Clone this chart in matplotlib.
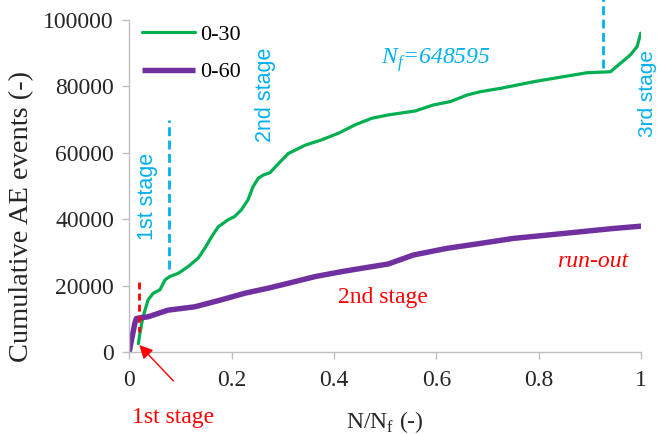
import matplotlib
matplotlib.use("Agg")
import matplotlib.pyplot as plt
from matplotlib.ticker import FuncFormatter

# Data
x_030 = [0.018, 0.021, 0.027, 0.037, 0.047, 0.060, 0.070, 0.079, 0.096, 0.115, 0.135, 0.148,
         0.161, 0.174, 0.193, 0.206, 0.219, 0.232, 0.242, 0.252, 0.262, 0.275, 0.292, 0.311,
         0.344, 0.376, 0.409, 0.441, 0.474, 0.506, 0.559, 0.594, 0.627, 0.660, 0.686, 0.725,
         0.790, 0.855, 0.894, 0.940, 0.959, 0.979, 0.992, 0.999]
y_030 = [2500, 5600, 10600, 15700, 17700, 18700, 21700, 22700, 23700, 25700, 28300, 31300,
         34700, 37700, 39800, 40800, 42800, 45800, 49800, 52300, 53300, 54000, 56800, 59800,
         62300, 63900, 65900, 68400, 70400, 71400, 72600, 74400, 75400, 77400, 78400, 79400,
         81400, 83100, 84100, 84400, 86900, 89500, 92000, 96000]

x_060 = [0.0, 0.011, 0.014, 0.037, 0.076, 0.128, 0.180, 0.226, 0.271, 0.311, 0.363, 0.415,
         0.454, 0.506, 0.555, 0.620, 0.686, 0.750, 0.816, 0.881, 0.946, 1.0]
y_060 = [0, 8600, 10100, 10600, 12600, 13600, 15700, 17700, 19200, 20700, 22700, 24200,
         25200, 26500, 29200, 31200, 32700, 34200, 35200, 36200, 37200, 37900]

series_labels = ["0-30", "0-60"]
x_ticks = [0, 0.2, 0.4, 0.6, 0.8, 1.0]
y_ticks = [0, 20000, 40000, 60000, 80000, 100000]

GREEN = "#00B050"
PURPLE = "#7030A0"
BLUE = "#00B0F0"
RED = "#FF0000"
SERIF = "Liberation Serif"
SANS = "Liberation Sans"
TXT = "#262626"

fig = plt.figure(figsize=(6.59, 4.34), dpi=100)
ax = fig.add_axes([0.196, 0.189, 0.777, 0.765])

ax.plot(x_030, y_030, color=GREEN, lw=2.3, label=series_labels[0],
        solid_capstyle="round", solid_joinstyle="round")
ax.plot(x_060, y_060, color=PURPLE, lw=3.9, label=series_labels[1],
        solid_capstyle="butt", solid_joinstyle="round")

ax.set_xlim(0, 1)
ax.set_ylim(0, 100000)
ax.set_xticks(x_ticks)
ax.set_yticks(y_ticks)
ax.xaxis.set_major_formatter(FuncFormatter(lambda v, p: "%g" % v))
ax.yaxis.set_major_formatter(FuncFormatter(lambda v, p: "%d" % v))

for s in ["top", "right"]:
    ax.spines[s].set_visible(False)
for s in ["left", "bottom"]:
    ax.spines[s].set_color("#BFBFBF")
    ax.spines[s].set_linewidth(1.0)
ax.tick_params(axis="both", direction="out", length=5, color="#BFBFBF", width=1.0,
               labelsize=17)
ax.tick_params(axis="y", pad=6)
ax.tick_params(axis="x", pad=8)
for lab in ax.get_xticklabels() + ax.get_yticklabels():
    lab.set_fontfamily(SERIF)
    lab.set_color(TXT)

ax.set_ylabel("Cumulative AE events (-)", fontfamily=SERIF, fontsize=20.5, color=TXT)
ax.yaxis.set_label_coords(-0.185, 0.407)
ax.set_xlabel("N/N$_\\mathregular{f}$ (-)", fontfamily=SERIF, fontsize=17, color=TXT)
ax.xaxis.set_label_coords(0.5, -0.172)

ax.legend(loc="upper left", bbox_to_anchor=(0.025, 0.986), frameon=False,
          handlelength=2.4, handletextpad=0.2, labelspacing=0.75,
          borderaxespad=0, borderpad=0,
          prop={"family": SERIF, "size": 16})

# Blue annotations
ax.plot([0.078, 0.078], [25000, 70000], color=BLUE, lw=2, ls=(0, (3.2, 1.6)))
ax.plot([0.925, 0.925], [85500, 106500], color=BLUE, lw=2, ls=(0, (3.2, 1.6)), clip_on=False)
ax.text(0.035, 46700, "1st stage", color=BLUE, rotation=90, fontsize=15.5, family=SANS,
        ha="center", va="center")
ax.text(0.266, 77400, "2nd stage", color=BLUE, rotation=90, fontsize=15.5, family=SANS,
        ha="center", va="center")
ax.text(1.013, 78000, "3rd stage", color=BLUE, rotation=90, fontsize=15, family=SANS,
        ha="center", va="center", clip_on=False)
ax.text(0.598, 88000, "N$_\\mathregular{f}$=648595", color=BLUE, fontsize=17, family=SERIF,
        style="italic", ha="center", va="center")

# Red annotations
ax.plot([0.02, 0.02], [21000, 6000], color=RED, lw=2, ls=(0, (2.5, 1.5)))
ax.annotate("", xy=(0.016, 2700), xytext=(0.09, -9300),
            arrowprops=dict(arrowstyle="-|>", color=RED, lw=1.0, mutation_scale=20),
            annotation_clip=False)
ax.text(0.086, -19600, "1st stage", color=RED, fontsize=17, family=SERIF,
        ha="center", va="center", clip_on=False)
ax.text(0.496, 16300, "2nd stage", color=RED, fontsize=17, family=SERIF,
        ha="center", va="center")
ax.text(0.906, 27400, "run-out", color=RED, fontsize=17, family=SERIF, style="italic",
        ha="center", va="center")

fig.savefig("out.png", dpi=100)
